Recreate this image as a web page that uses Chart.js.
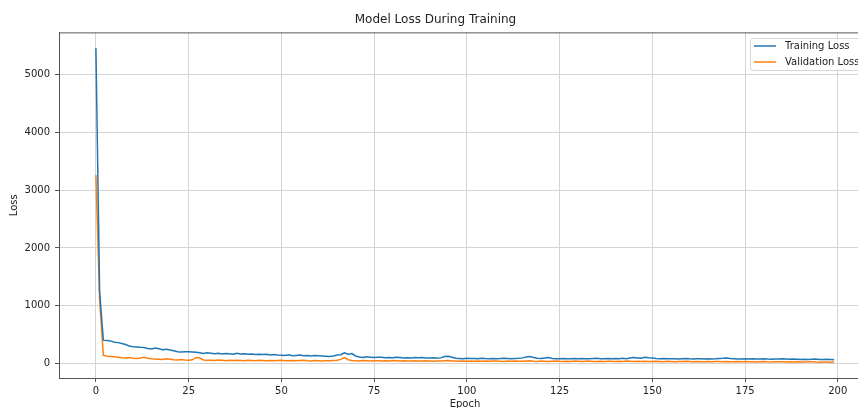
<!DOCTYPE html>
<html lang="en">
<head>
    <meta charset="UTF-8">
    <title>Model Loss During Training</title>
    <script src="https://cdn.jsdelivr.net/npm/chart.js"></script>
    <style>
        html, body {
            margin: 0;
            padding: 0;
            background: #fff;
            overflow: hidden;
        }

        .chart-wrap {
            width: 858px;
            height: 408px;
            overflow: hidden;
        }
    </style>
</head>
<body>
    <div class="chart-wrap">
        <canvas id="lossChart" width="880" height="408"></canvas>
    </div>

    <script>
        // Loss values per epoch
        const trainLoss = [
            5456, 1250, 405, 398, 392, 370, 362, 348, 330, 305,
            292, 288, 280, 276, 262, 252, 268, 255, 240, 246,
            236, 222, 206, 198, 202, 205, 200, 196, 186, 172,
            186, 180, 170, 176, 166, 174, 170, 160, 176, 166,
            170, 160, 166, 155, 161, 156, 160, 150, 156, 146,
            145, 140, 150, 136, 141, 146, 136, 140, 130, 141,
            135, 130, 125, 121, 131, 146, 152, 186, 160, 172,
            131, 112, 106, 116, 110, 105, 111, 108, 100, 106,
            101, 108, 104, 98, 101, 95, 103, 100, 106, 96,
            94, 101, 92, 98, 121, 126, 110, 92, 88, 85,
            90, 86, 88, 84, 91, 87, 85, 89, 83, 86,
            92, 88, 84, 87, 90, 98, 112, 120, 105, 92,
            86, 96, 104, 88, 84, 82, 86, 85, 83, 88,
            84, 87, 81, 85, 88, 92, 84, 82, 86, 84,
            88, 85, 90, 84, 96, 104, 98, 92, 110, 100,
            94, 88, 84, 86, 82, 85, 83, 80, 84, 86,
            82, 80, 84, 81, 79, 83, 80, 82, 86, 90,
            96, 88, 84, 80, 78, 82, 79, 81, 77, 80,
            84, 78, 76, 80, 77, 82, 79, 74, 78, 75,
            72, 76, 70, 74, 78, 72, 68, 73, 70, 66
        ];

        const valLoss = [
            3260, 1100, 145, 128, 124, 118, 110, 100, 96, 106,
            90, 86, 96, 110, 92, 85, 80, 76, 70, 82,
            75, 66, 60, 70, 61, 56, 65, 105, 96, 62,
            56, 58, 52, 60, 55, 50, 56, 52, 58, 54,
            50, 55, 52, 48, 56, 53, 50, 54, 49, 52,
            56, 50, 48, 53, 47, 51, 55, 49, 46, 52,
            48, 45, 50, 47, 52, 58, 72, 102, 66, 54,
            50, 46, 52, 48, 45, 50, 47, 44, 49, 46,
            52, 48, 44, 47, 43, 46, 50, 45, 42, 47,
            44, 41, 46, 43, 48, 52, 45, 42, 40, 44,
            41, 45, 39, 43, 40, 44, 38, 42, 46, 40,
            37, 42, 39, 44, 41, 38, 43, 47, 40, 37,
            42, 39, 36, 41, 44, 38, 35, 40, 37, 42,
            39, 36, 40, 43, 37, 34, 39, 36, 41, 38,
            35, 40, 37, 44, 41, 36, 39, 35, 40, 37,
            34, 38, 36, 33, 39, 35, 32, 37, 34, 38,
            35, 31, 36, 33, 30, 35, 32, 37, 34, 31,
            36, 33, 29, 34, 31, 35, 30, 33, 28, 32,
            35, 30, 27, 32, 29, 33, 28, 31, 26, 30,
            28, 25, 29, 32, 27, 24, 28, 25, 22, 26
        ];

        const xTicks = [0, 25, 50, 75, 100, 125, 150, 175, 200];
        const yTicks = [0, 1000, 2000, 3000, 4000, 5000];

        const toPoints = arr => arr.map((v, i) => ({ x: i, y: v }));

        const FONT = "'DejaVu Sans', sans-serif";
        const TEXT = '#222';

        // frame on top of the plot + matplotlib-like legend box
        const framePlugin = {
            id: 'frame',
            afterDraw(chart) {
                const { ctx, chartArea: a } = chart;
                ctx.save();
                ctx.strokeStyle = '#555';
                ctx.lineWidth = 1;
                ctx.beginPath();
                ctx.moveTo(a.left, a.top + 0.5);
                ctx.lineTo(a.right, a.top + 0.5);
                ctx.moveTo(a.right - 0.5, a.top);
                ctx.lineTo(a.right - 0.5, a.bottom);
                ctx.stroke();

                // legend
                const bx = 750, by = 38, bw = 116, bh = 32;
                ctx.fillStyle = 'rgba(255,255,255,0.8)';
                ctx.strokeStyle = '#d6d6d6';
                ctx.beginPath();
                ctx.roundRect(bx + 0.5, by + 0.5, bw, bh, 3);
                ctx.fill();
                ctx.stroke();

                ctx.font = '10px ' + FONT;
                ctx.textBaseline = 'middle';
                ctx.textAlign = 'left';
                chart.data.datasets.forEach((ds, i) => {
                    const y = by + 8 + i * 16;
                    ctx.strokeStyle = ds.borderColor;
                    ctx.lineWidth = 1.5;
                    ctx.beginPath();
                    ctx.moveTo(bx + 4, y);
                    ctx.lineTo(bx + 26, y);
                    ctx.stroke();
                    ctx.fillStyle = TEXT;
                    ctx.fillText(ds.label, bx + 35, y);
                });
                ctx.restore();
            }
        };

        const ctx = document.getElementById('lossChart').getContext('2d');
        new Chart(ctx, {
            type: 'line',
            data: {
                datasets: [{
                    label: 'Training Loss',
                    data: toPoints(trainLoss),
                    borderColor: '#1f77b4',
                    borderWidth: 1.5,
                    pointRadius: 0,
                    tension: 0
                }, {
                    label: 'Validation Loss',
                    data: toPoints(valLoss),
                    borderColor: '#ff7f0e',
                    borderWidth: 1.5,
                    pointRadius: 0,
                    tension: 0
                }]
            },
            options: {
                responsive: false,
                animation: false,
                layout: { padding: { top: 0, right: 9, bottom: 0, left: 0 } },
                plugins: {
                    legend: { display: false },
                    tooltip: { enabled: false },
                    title: {
                        display: true,
                        text: 'Model Loss During Training',
                        color: TEXT,
                        font: { family: FONT, size: 12, weight: 'normal', lineHeight: 1.2 },
                        padding: { top: 13, bottom: 5 }
                    }
                },
                scales: {
                    x: {
                        type: 'linear',
                        min: -9.95,
                        max: 208.95,
                        afterBuildTicks: s => { s.ticks = xTicks.map(v => ({ value: v })); },
                        afterFit: s => { s.height = 30; },
                        grid: { color: '#d4d4d4', lineWidth: 1, tickLength: 4, tickColor: '#555' },
                        border: { color: '#555', width: 1 },
                        ticks: {
                            color: TEXT, padding: 3, maxRotation: 0,
                            font: { family: FONT, size: 10 },
                            callback: v => String(v)
                        },
                        title: {
                            display: true,
                            text: 'Epoch',
                            color: TEXT,
                            font: { family: FONT, size: 10, lineHeight: 1 },
                            padding: { top: 0, bottom: -1 }
                        }
                    },
                    y: {
                        type: 'linear',
                        min: -250,
                        max: 5728,
                        afterBuildTicks: s => { s.ticks = yTicks.map(v => ({ value: v })); },
                        afterFit: s => { s.width = 59; },
                        grid: { color: '#d4d4d4', lineWidth: 1, tickLength: 4, tickColor: '#555' },
                        border: { color: '#555', width: 1 },
                        ticks: {
                            color: TEXT, padding: 5,
                            font: { family: FONT, size: 10 },
                            callback: v => String(v)
                        },
                        title: {
                            display: true,
                            text: 'Loss',
                            color: TEXT,
                            font: { family: FONT, size: 10, lineHeight: 1.2 },
                            padding: { top: 8, bottom: 0 }
                        }
                    }
                }
            },
            plugins: [framePlugin]
        });
    </script>
</body>
</html>
